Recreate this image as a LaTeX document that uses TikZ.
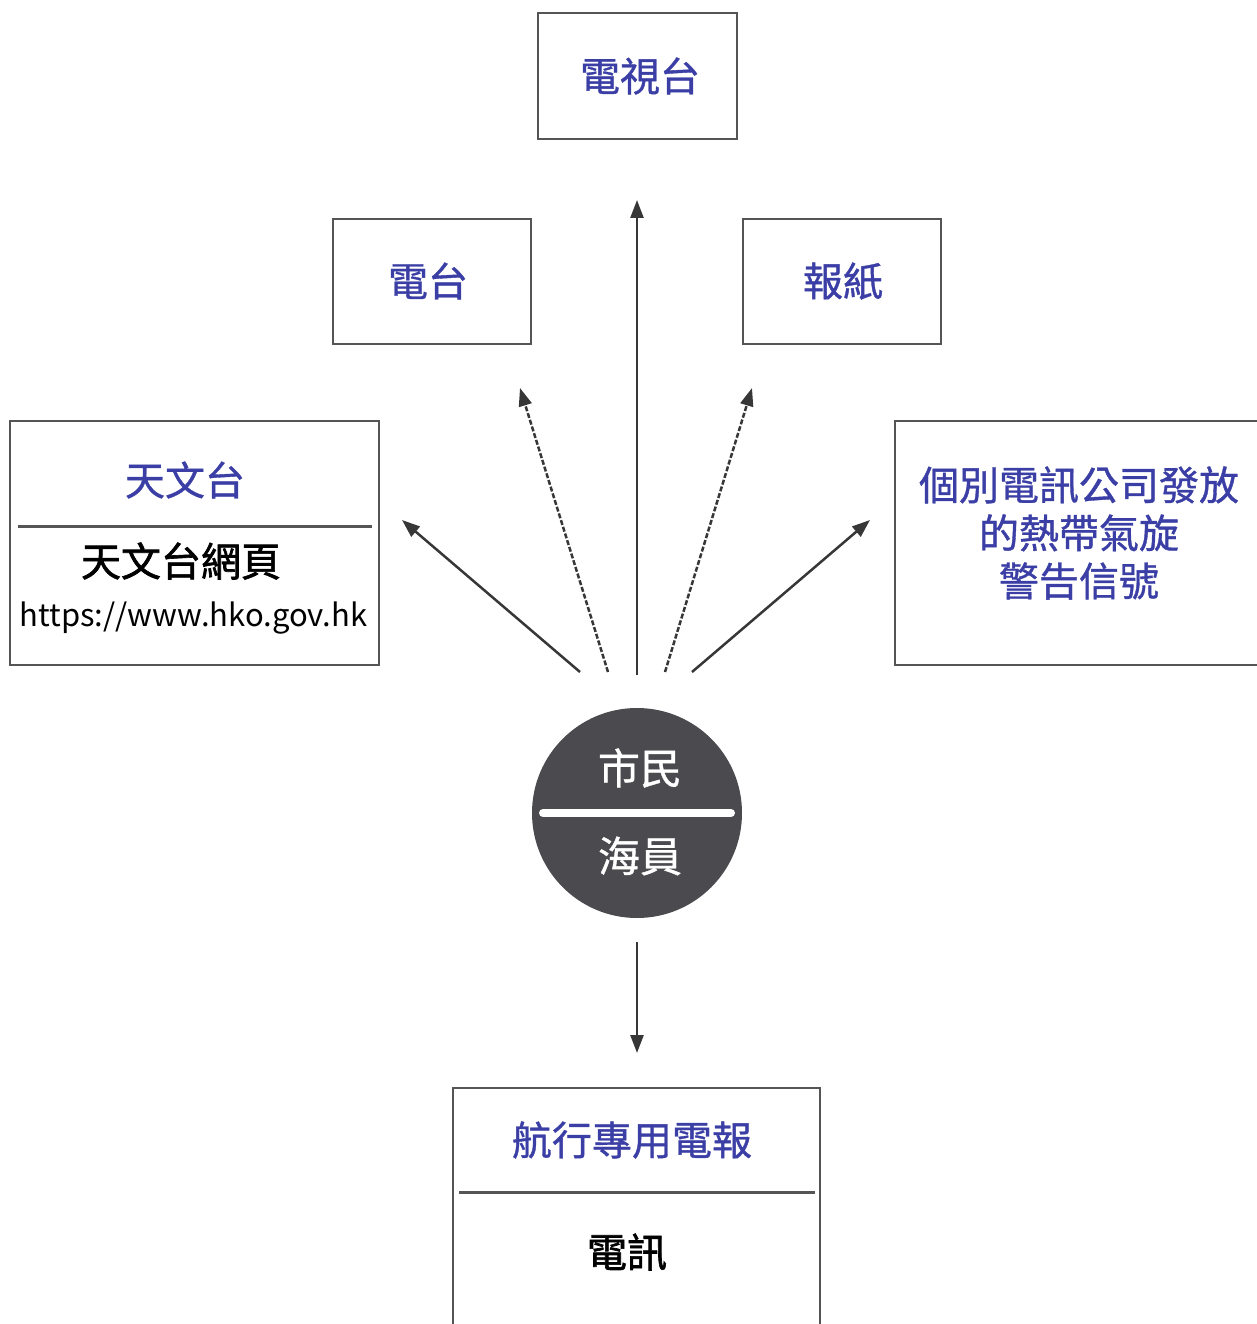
\documentclass[tikz,border=0pt]{standalone}
\usepackage{fontspec}
\setmainfont{Noto Sans CJK TC}
\newfontfamily\medfont{Noto Sans CJK TC}[FakeBold=0.9]
\newfontfamily\semifont{Noto Sans CJK TC}[FakeBold=1.6]
\usetikzlibrary{arrows.meta}
\definecolor{txtblue}{RGB}{58,62,165}
\definecolor{boxgray}{RGB}{85,85,85}
\definecolor{arrgray}{RGB}{55,55,55}
\definecolor{circfill}{RGB}{75,74,79}
\tikzset{
  box/.style={draw=boxgray, line width=2.5pt, fill=none, inner sep=0pt},
  bluetxt/.style={text=txtblue, font=\medfont\fontsize{40}{48}\selectfont, inner sep=0pt},
  blacktxt/.style={text=black, font=\semifont\fontsize{40}{48}\selectfont, inner sep=0pt},
  whitetxt/.style={text=white, font=\medfont\fontsize{42}{48}\selectfont, inner sep=0pt},
  divider/.style={draw=boxgray, line width=3pt},
  conn/.style={draw=arrgray, line width=2.5pt, -{Triangle[length=18pt,width=13pt]}},
  dashconn/.style={conn, dash pattern=on 5pt off 2pt},
}
\begin{document}
\begin{tikzpicture}[x=1pt,y=-1pt]
\useasboundingbox (0,0) rectangle (1256,1324);
% boxes
\node[box, minimum width=199pt, minimum height=126pt] (tv) at (637.5,76) {};
\node[box, minimum width=198pt, minimum height=125pt] (radio) at (432,281.5) {};
\node[box, minimum width=198pt, minimum height=125pt] (paper) at (842,281.5) {};
\node[box, minimum width=369pt, minimum height=244pt] (hko) at (194.5,543) {};
\node[box, minimum width=367pt, minimum height=244pt] (telco) at (1078.5,543) {};
\node[box, minimum width=367pt, minimum height=242pt] (tele) at (636.5,1209) {};
% texts
\node[bluetxt] (tvt) at (640,76) {電視台};
\node[bluetxt] (radiot) at (428,281) {電台};
\node[bluetxt] (papert) at (843,281) {報紙};
\node[bluetxt] (hkot) at (185,480) {天文台};
\node[blacktxt] (hkow) at (181,561) {天文台網頁};
\node[text=black, font=\fontsize{31}{36}\selectfont, inner sep=0pt] (url) at (193.5,618) {https://www.hko.gov.hk};
\node[bluetxt, align=center] (telcot) at (1079,533) {個別電訊公司發放\\的熱帶氣旋\\警告信號};
\node[bluetxt] (navt) at (632,1140) {航行專用電報};
\node[blacktxt] (telet) at (627,1252) {電訊};
% dividers
\coordinate (hkodl) at (18,526); \coordinate (hkodr) at (372,526);
\draw[divider] (hkodl) -- (hkodr);
\coordinate (teledl) at (459,1192); \coordinate (teledr) at (815,1192);
\draw[divider] (teledl) -- (teledr);
% circle
\node[circle, fill=circfill, minimum size=210pt, inner sep=0pt] (people) at (637,813) {};
\coordinate (barl) at (543,813); \coordinate (barr) at (731,813);
\draw[white, line width=8pt, line cap=round] (barl) -- (barr);
\node[whitetxt] (citizen) at (640,768) {市民};
\node[whitetxt] (seaman) at (640,856) {海員};
% connector endpoints
\coordinate (s0) at (637,675); \coordinate (e0) at (637,200);
\coordinate (s1) at (608,672); \coordinate (e1) at (520,388);
\coordinate (s2) at (665,672); \coordinate (e2) at (752,388);
\coordinate (s3) at (580,672); \coordinate (e3) at (402,520);
\coordinate (s4) at (692,672); \coordinate (e4) at (870,520);
\coordinate (s5) at (637,942); \coordinate (e5) at (637,1053);
\draw[conn] (s0) -- (e0);
\draw[dashconn] (s1) -- (e1);
\draw[dashconn] (s2) -- (e2);
\draw[conn] (s3) -- (e3);
\draw[conn] (s4) -- (e4);
\draw[conn] (s5) -- (e5);
\end{tikzpicture}
\end{document}
